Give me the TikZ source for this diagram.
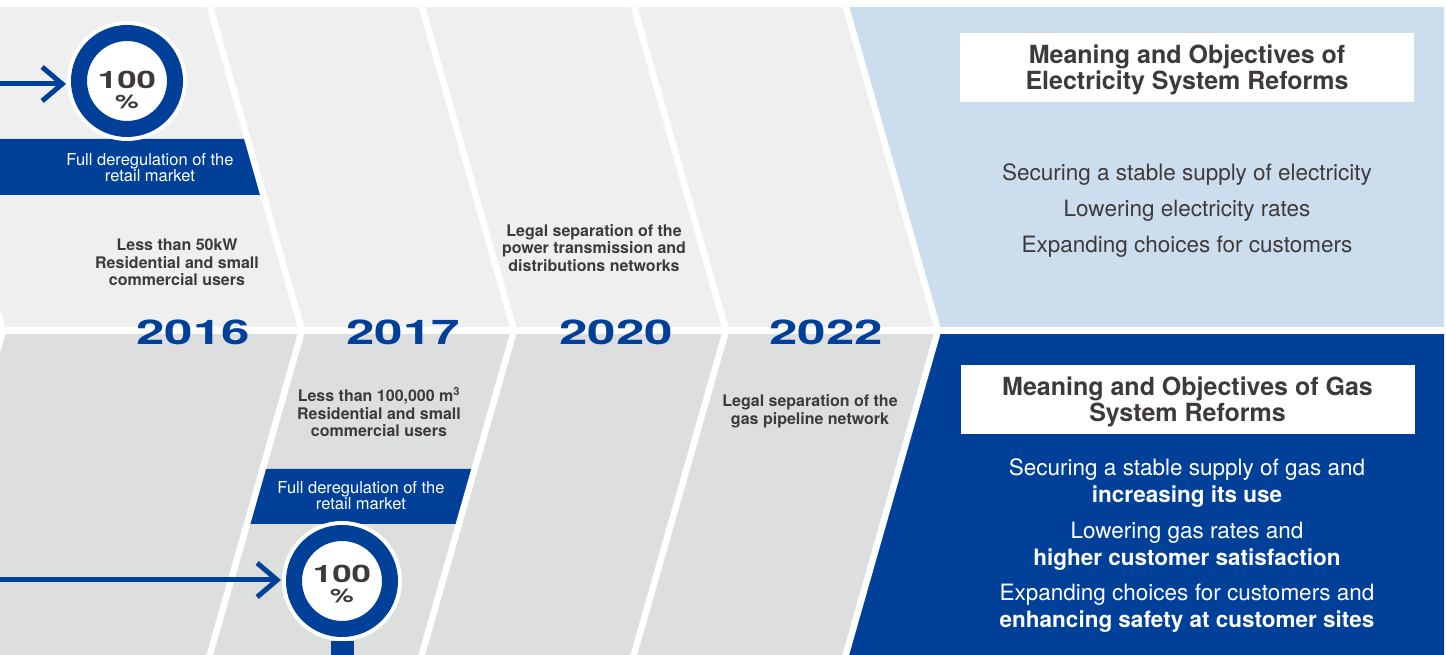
\documentclass[tikz,border=0pt]{standalone}
\usepackage{fontspec}
\setmainfont{TeX Gyre Heros}
\usetikzlibrary{positioning,arrows.meta}

\definecolor{elecgray}{RGB}{239,239,239}
\definecolor{gasgray}{RGB}{221,223,223}
\definecolor{elecblue}{RGB}{204,221,238}
\definecolor{gasblue}{RGB}{0,64,152}
\definecolor{inkgray}{RGB}{62,58,58}

\newcommand{\widen}[2][1.5]{\scalebox{#1}[1]{#2}}
\newcommand{\headstrut}{\rule{0pt}{24bp}}

\tikzset{
  divider/.style={draw=white,line width=6.5bp},
  ring/.style={circle,fill=white,draw=gasblue,line width=16bp,minimum size=96bp,inner sep=0pt,
    preaction={draw=white,line width=24bp}},
  numtext/.style={anchor=base,inner sep=0pt,text=inkgray,font=\fontsize{24bp}{24bp}\selectfont\bfseries},
  pcttext/.style={anchor=base,inner sep=0pt,text=inkgray,font=\fontsize{19bp}{19bp}\selectfont\bfseries},
  barlabel/.style={align=center,text=white,inner sep=0pt,font=\fontsize{16.5bp}{16bp}\selectfont},
  steplabel/.style={align=center,text=inkgray,inner sep=0pt,font=\fontsize{16bp}{17.5bp}\selectfont\bfseries},
  yearlabel/.style={text=gasblue,inner sep=0pt,font=\fontsize{34bp}{34bp}\selectfont\bfseries},
  titlebox/.style={fill=white,minimum width=454bp,minimum height=69bp,inner sep=0pt,align=center,
    text=inkgray,font=\fontsize{25bp}{26bp}\selectfont\bfseries},
  aimtext/.style={align=center,inner sep=0pt,font=\fontsize{22.5bp}{27bp}\selectfont},
  feed/.style={draw=gasblue,line width=5bp,-{Straight Barb[length=20bp,width=34bp]},shorten >=5bp},
  ringstem/.style={draw=gasblue,line width=23bp},
}

\begin{document}
\begin{tikzpicture}[>=latex,line join=miter]
\useasboundingbox (0bp,0bp) rectangle (1446bp,655bp);
%% bands
\fill[elecgray] (0bp,324.5bp) rectangle (1444bp,648bp);
\fill[gasgray] (0bp,0bp) rectangle (1444bp,324.5bp);
\fill[elecblue] (846bp,648bp) -- (1444bp,648bp) -- (1444bp,324.5bp) -- (938bp,324.5bp) -- cycle;
\fill[gasblue] (938bp,324.5bp) -- (1444bp,324.5bp) -- (1444bp,0bp) -- (846bp,0bp) -- cycle;
%% banners
\fill[gasblue] (0bp,516bp) -- (247.5bp,516bp) -- (263.4bp,460bp) -- (0bp,460bp) -- cycle;
\fill[gasblue] (262.7bp,186bp) -- (474.7bp,186bp) -- (459bp,131bp) -- (247bp,131bp) -- cycle;
%% dividers
\draw[divider] (-92.4bp,660bp) -- (3bp,324.5bp) -- (-90.7bp,-5bp);
\draw[divider] (206.6bp,660bp) -- (302bp,324.5bp) -- (208.3bp,-5bp);
\draw[divider] (418.6bp,660bp) -- (514bp,324.5bp) -- (420.3bp,-5bp);
\draw[divider] (630.6bp,660bp) -- (726bp,324.5bp) -- (632.3bp,-5bp);
\draw[divider] (842.6bp,660bp) -- (938bp,324.5bp) -- (844.3bp,-5bp);
\draw[divider,line width=7bp] (0bp,324.5bp) -- (1446bp,324.5bp);
\fill[white] (-5bp,648bp) rectangle (1446bp,660bp);
%% electricity
\node (elechead) at (1187bp,587.5bp) [titlebox] {\headstrut Meaning and Objectives of\\Electricity System Reforms};
\node (elecaim1) at (1187bp,480bp) [aimtext,text=inkgray] {Securing a stable supply of electricity};
\node (elecaim2) at (1187bp,444bp) [aimtext,text=inkgray] {Lowering electricity rates};
\node (elecaim3) at (1187bp,408bp) [aimtext,text=inkgray] {Expanding choices for customers};
\node (elecbar) at (150bp,487.5bp) [barlabel] {Full deregulation of the\\retail market};
\node (elecusers) at (177bp,392.5bp) [steplabel] {Less than 50kW\\Residential and small\\commercial users};
\node (elecgrid) at (594bp,407bp) [steplabel] {Legal separation of the\\power transmission and\\distributions networks};
\node (c1) at (127bp,574bp) [ring] {};
\node (c1num) at (127bp,566bp) [numtext] {\widen[1.45]{100}};
\node (c1pct) at (127bp,546bp) [pcttext] {\widen[1.4]{\%}};
\coordinate (elecin) at (0bp,571bp);
\draw[feed] (elecin) -- (elecin -| c1.west);
%% years
\node (y2016) at (193bp,323bp) [yearlabel] {\widen{2016}};
\node (y2017) at (403bp,323bp) [yearlabel] {\widen{2017}};
\node (y2020) at (616bp,323bp) [yearlabel] {\widen{2020}};
\node (y2022) at (826bp,323bp) [yearlabel] {\widen{2022}};
%% gas
\node (gashead) at (1187.5bp,255.5bp) [titlebox] {\headstrut Meaning and Objectives of Gas\\System Reforms};
\node (gasaim1) at (1187bp,171.5bp) [aimtext,text=white] {Securing a stable supply of gas and\\\textbf{increasing its use}};
\node (gasaim2) at (1187bp,109bp) [aimtext,text=white] {Lowering gas rates and\\\textbf{higher customer satisfaction}};
\node (gasaim3) at (1187bp,47bp) [aimtext,text=white] {Expanding choices for customers and\\\textbf{enhancing safety at customer sites}};
\node (gasusers) at (379bp,243bp) [steplabel] {Less than 100,000 m\textsuperscript{3}\\Residential and small\\commercial users};
\node (gaspipe) at (810bp,243.5bp) [steplabel] {Legal separation of the\\gas pipeline network};
\node (gasbar) at (361bp,159.5bp) [barlabel] {Full deregulation of the\\retail market};
\coordinate (gasfoot) at (342bp,-2bp);
\node (c2) at (342bp,74bp) [ring] {};
\draw[ringstem] ([yshift=-4bp]c2.south) -- (gasfoot);
\node (c2num) at (342bp,72bp) [numtext] {\widen[1.45]{100}};
\node (c2pct) at (342bp,52bp) [pcttext] {\widen[1.4]{\%}};
\coordinate (gasin) at (0bp,75bp);
\draw[feed] (gasin) -- (gasin -| c2.west);
%
\end{tikzpicture}
\end{document}
